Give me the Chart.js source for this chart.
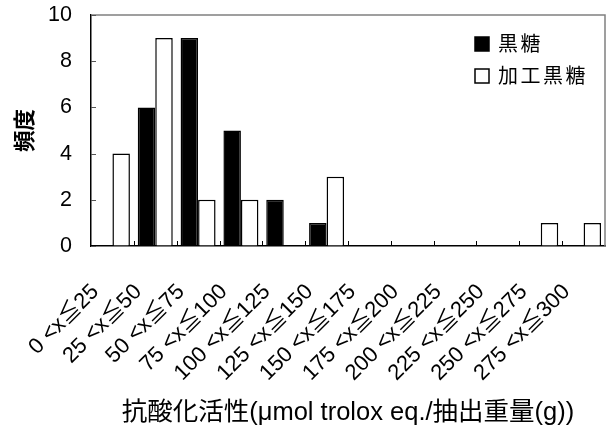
<!DOCTYPE html>
<html>
<head>
<meta charset="utf-8">
<script src="https://cdn.jsdelivr.net/npm/chart.js@4/dist/chart.umd.min.js"></script>
<style>
  html, body { margin: 0; padding: 0; background: #fff; }
  #wrap { width: 608px; height: 432px; }
</style>
</head>
<body>
<div id="wrap"><canvas id="freqChart" width="608" height="432"></canvas></div>
<script>
// Data
const categories = [
  "0 <x≦25", "25 <x≦50", "50 <x≦75", "75 <x≦100",
  "100 <x≦125", "125 <x≦150", "150 <x≦175", "175 <x≦200",
  "200 <x≦225", "225 <x≦250", "250 <x≦275", "275 <x≦300",
];
const kokuto = [0, 6, 9, 5, 2, 1, 0, 0, 0, 0, 0, 0];
const kakoKokuto = [4, 9, 2, 2, 0, 3, 0, 0, 0, 0, 1, 1];
const yTicks = [0, 2, 4, 6, 8, 10];

const FONT = "'Liberation Sans', Arial, 'Noto Sans CJK JP', sans-serif";

// frame (top/right), inner tick marks, legend
const decorPlugin = {
  id: "decor",
  afterDraw(chart) {
    const { ctx, chartArea: a, scales } = chart;
    ctx.save();
    ctx.strokeStyle = "#808080";
    ctx.lineWidth = 1.5;
    ctx.beginPath();
    ctx.moveTo(a.left, a.top);
    ctx.lineTo(a.right, a.top);
    ctx.lineTo(a.right, a.bottom);
    ctx.stroke();

    // x ticks between categories, pointing up
    const x = scales.x;
    ctx.strokeStyle = "#000";
    ctx.lineWidth = 1;
    const half = (x.getPixelForValue(1) - x.getPixelForValue(0)) / 2;
    for (let i = 1; i < categories.length; i++) {
      const px = Math.round(x.getPixelForValue(i) - half) + 0.5;
      ctx.beginPath();
      ctx.moveTo(px, a.bottom);
      ctx.lineTo(px, a.bottom - 5);
      ctx.stroke();
    }
    // y ticks pointing right
    ctx.strokeStyle = "#555";
    yTicks.forEach((v) => {
      const py = Math.round(scales.y.getPixelForValue(v)) + 0.5;
      ctx.beginPath();
      ctx.moveTo(a.left, py);
      ctx.lineTo(a.left + 5, py);
      ctx.stroke();
    });

    // legend
    const lx = 475, ly = [44, 76];
    ctx.font = "20px " + FONT;
    ctx.textBaseline = "middle";
    if ("letterSpacing" in ctx) ctx.letterSpacing = "2.5px";
    chart.data.datasets.forEach((ds, i) => {
      ctx.fillStyle = ds.backgroundColor;
      ctx.fillRect(lx, ly[i] - 7, 14, 14);
      ctx.strokeStyle = "#000";
      ctx.lineWidth = 1.5;
      ctx.strokeRect(lx, ly[i] - 7, 14, 14);
      ctx.fillStyle = "#000";
      ctx.fillText(ds.label, lx + 23, ly[i] + 1);
    });
    ctx.restore();
  },
};

const ctx = document.getElementById("freqChart").getContext("2d");
const chart = new Chart(ctx, {
  type: "bar",
  data: {
    labels: categories,
    datasets: [
      {
        label: "黒糖",
        data: kokuto,
        backgroundColor: "#000",
        borderColor: "#000",
        borderWidth: 1.5,
      },
      {
        label: "加工黒糖",
        data: kakoKokuto,
        backgroundColor: "#fff",
        borderColor: "#000",
        borderWidth: 1.5,
      },
    ],
  },
  options: {
    responsive: false,
    animation: false,
    devicePixelRatio: 1,
    categoryPercentage: 0.817,
    barPercentage: 1.0,
    layout: { padding: { top: 15, right: 3, left: 0, bottom: 0 } },
    plugins: {
      legend: { display: false },
      tooltip: { enabled: false },
    },
    scales: {
      x: {
        // fixed box so the plot area sits where the original one does
        afterFit: (axis) => {
          axis.height = 186;
          axis.paddingLeft = 0;
          axis.paddingRight = 0;
        },
        grid: { display: true, drawOnChartArea: false, drawTicks: false },
        border: { color: "#000", width: 1.5 },
        ticks: {
          color: "#000",
          font: { family: FONT, size: 22 },
          minRotation: 45,
          maxRotation: 45,
          autoSkip: false,
          padding: 33,
          labelOffset: -17,
        },
        title: {
          display: true,
          text: "抗酸化活性(μmol trolox eq./抽出重量(g))",
          color: "#000",
          font: { family: FONT, size: 25.5 },
          padding: { top: 0, bottom: 4 },
        },
      },
      y: {
        min: 0,
        max: 10,
        afterFit: (axis) => {
          axis.width = 91;
          axis.paddingTop = 0;
          axis.paddingBottom = 0;
        },
        afterBuildTicks: (axis) => {
          axis.ticks = yTicks.map((v) => ({ value: v }));
        },
        grid: { display: true, drawOnChartArea: false, drawTicks: false },
        border: { color: "#000", width: 1.5 },
        ticks: {
          color: "#000",
          font: { family: FONT, size: 21.5 },
          padding: 19,
        },
        title: {
          display: true,
          text: "頻度",
          color: "#000",
          font: { family: FONT, size: 21.5, weight: "bold" },
          padding: { top: 13, bottom: 0 },
        },
      },
    },
  },
  plugins: [decorPlugin],
});
</script>
</body>
</html>
